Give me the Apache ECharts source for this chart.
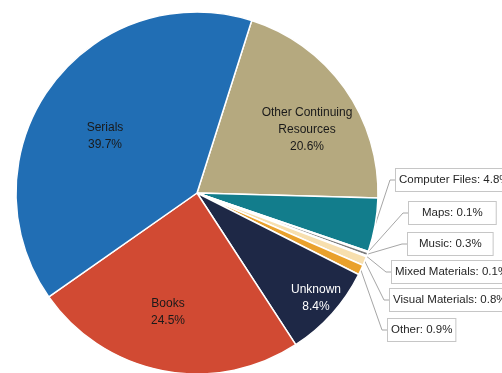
<!DOCTYPE html>
<html>
<head>
<meta charset="utf-8">
<script src="https://cdn.jsdelivr.net/npm/echarts@6/dist/echarts.min.js"></script>
<style>
html,body{margin:0;padding:0;background:#fff;}
#chart{width:502px;height:373px;}
</style>
</head>
<body>
<div id="chart"></div>
<script>
// Data (clockwise from the top boundary)
const categories = ['Other Continuing Resources','Computer Files','Maps','Music','Mixed Materials','Visual Materials','Other','Unknown','Books','Serials'];
const values = [20.6, 4.8, 0.1, 0.3, 0.1, 0.8, 0.9, 8.4, 24.5, 39.7];
const labelNames = ['Other Continuing\nResources','Computer Files','Maps','Music','Mixed Materials','Visual Materials','Other','Unknown','Books','Serials'];
const colors = ['#b5a97f','#127d8c','#9dd9e6','#7a7a7a','#c8c8c8','#f7dfae','#e9a12c','#1e2846','#d14a33','#216eb4'];
const insideLabels = ['Other Continuing Resources','Unknown','Books','Serials'];

// label placement (layout only)
const labelPos = {
  'Other Continuing Resources': [307, 130],
  'Unknown': [316, 298],
  'Books': [168, 312],
  'Serials': [105, 136],
  'Computer Files': [396, 180],
  'Maps': [409, 213],
  'Music': [408, 244],
  'Mixed Materials': [392, 272],
  'Visual Materials': [390, 300],
  'Other': [388, 330]
};
const boxPad = {'Maps': [5, 13], 'Music': [5, 11]};

const FONT = '"Liberation Sans", Arial, sans-serif';

const data = categories.map((name, i) => {
  const inside = insideLabels.indexOf(name) >= 0;
  const item = {name: name, value: values[i], itemStyle: {color: colors[i]}};
  if (inside) {
    item.label = {
      show: true, position: 'inside',
      formatter: labelNames[i] + '\n' + values[i].toFixed(1) + '%',
      color: name === 'Unknown' ? '#ffffff' : '#1a1a1a',
      fontSize: 12, lineHeight: 17, fontFamily: FONT, align: 'center'
    };
    item.labelLine = {show: false};
  } else {
    item.label = {
      show: true, position: 'outside',
      formatter: labelNames[i] + ': ' + values[i].toFixed(1) + '%',
      color: '#262626', fontSize: 11.5, lineHeight: 12, fontFamily: FONT,
      backgroundColor: '#ffffff', borderColor: '#c6c6c6', borderWidth: 1,
      padding: boxPad[name] || [5, 3]
    };
    item.labelLine = {show: true, lineStyle: {color: '#a6a6a6', width: 1}};
  }
  return item;
});

const chart = echarts.init(document.getElementById('chart'), null, {renderer: 'canvas'});
chart.setOption({
  animation: false,
  backgroundColor: '#ffffff',
  series: [{
    type: 'pie',
    center: [197, 193],
    radius: 181,
    startAngle: 72.4,
    clockwise: true,
    avoidLabelOverlap: false,
    itemStyle: {borderColor: '#ffffff', borderWidth: 1.5},
    data: data,
    labelLayout: function (p) {
      const name = categories[p.dataIndex];
      const pos = labelPos[name];
      if (insideLabels.indexOf(name) >= 0) {
        return {x: pos[0], y: pos[1], align: 'center', verticalAlign: 'middle'};
      }
      const start = (p.labelLinePoints && p.labelLinePoints[0]) || [pos[0] - 10, pos[1]];
      return {
        x: pos[0], y: pos[1], align: 'left', verticalAlign: 'middle',
        labelLinePoints: [start, [pos[0] - 6, pos[1]], [pos[0], pos[1]]]
      };
    }
  }]
});
</script>
</body>
</html>
